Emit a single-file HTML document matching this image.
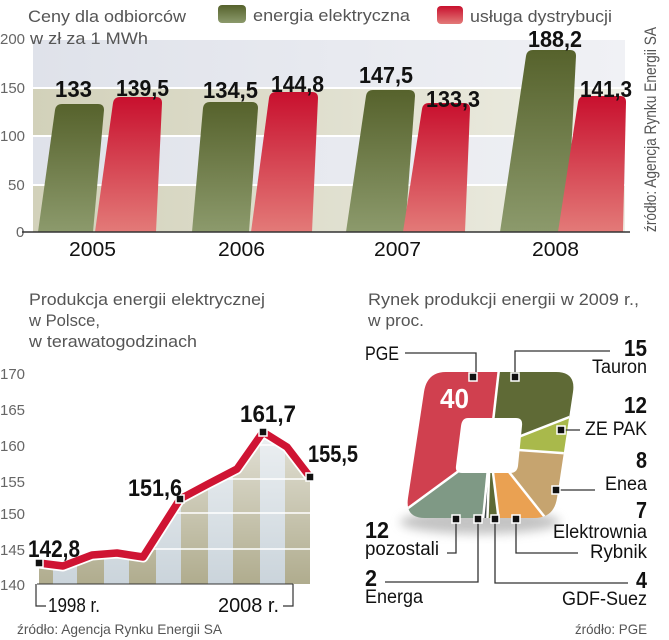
<!DOCTYPE html>
<html><head><meta charset="utf-8"><style>
html,body{margin:0;padding:0;background:#fff;}
svg{display:block;}
text{font-family:"Liberation Sans",sans-serif;}
.t{fill:#555;font-size:17px;}
.b{font-weight:bold;fill:#111;}
.ax{fill:#666;font-size:15px;}
</style></head><body>
<svg width="669" height="640" viewBox="0 0 669 640" xmlns="http://www.w3.org/2000/svg">
<defs>
<linearGradient id="gg" x1="0" y1="0" x2="0" y2="1"><stop offset="0" stop-color="#56622c"/><stop offset="1" stop-color="#8c9a6c"/></linearGradient>
<linearGradient id="rg" x1="0" y1="0" x2="0" y2="1"><stop offset="0" stop-color="#c8102e"/><stop offset="1" stop-color="#e37a78"/></linearGradient>
<linearGradient id="band1" x1="0" y1="0" x2="1" y2="0"><stop offset="0" stop-color="#dfe2ea"/><stop offset="1" stop-color="#f0f1f5"/></linearGradient>
<linearGradient id="band2" x1="0" y1="0" x2="1" y2="0"><stop offset="0" stop-color="#d2d1ba"/><stop offset="1" stop-color="#eeeee4"/></linearGradient>
<linearGradient id="fade" x1="0" y1="0" x2="0" y2="1"><stop offset="0" stop-color="#fff" stop-opacity="0.7"/><stop offset="1" stop-color="#fff" stop-opacity="0"/></linearGradient>
<clipPath id="area"><polygon points="39,563 63,566 92,555 117,553 143,557 180,499 208,484 237,469 263,432 287,447 310,477 310,584 39,584"/></clipPath>
<clipPath id="sq"><path d="M446,372 L556,372 Q576,372 573,392 L557,498 Q554,518 534,518 L425,518 Q405,518 408,498 L424,392 Q427,372 446,372 Z"/></clipPath>
<filter id="sh" x="-20%" y="-20%" width="140%" height="160%"><feGaussianBlur stdDeviation="5"/></filter>
</defs>

<!-- TOP CHART -->
<text class="t" x="28" y="22" font-size="19" textLength="158" lengthAdjust="spacingAndGlyphs">Ceny dla odbiorców</text>
<rect x="218" y="5" width="28" height="18" rx="4" fill="url(#gg)"/>
<text class="t" x="253" y="21" font-size="19" textLength="157" lengthAdjust="spacingAndGlyphs">energia elektryczna</text>
<rect x="437" y="6" width="26" height="18" rx="4" fill="url(#rg)"/>
<text class="t" x="470" y="22" font-size="19" textLength="142" lengthAdjust="spacingAndGlyphs">usługa dystrybucji</text>
<text class="t" font-size="14" transform="translate(656,232) rotate(-90)" textLength="205" lengthAdjust="spacingAndGlyphs">źródło: Agencja Rynku Energii SA</text>

<rect x="33" y="40" width="592" height="48" fill="url(#band1)"/>
<rect x="33" y="88" width="592" height="48" fill="url(#band2)"/>
<rect x="33" y="136" width="592" height="49" fill="url(#band1)"/>
<rect x="33" y="185" width="592" height="47" fill="url(#band2)"/>
<g stroke="#fff" stroke-width="2"><line x1="33" y1="88" x2="625" y2="88"/><line x1="33" y1="136" x2="625" y2="136"/><line x1="33" y1="185" x2="625" y2="185"/></g>
<text class="t" x="30" y="44" font-size="19" textLength="118" lengthAdjust="spacingAndGlyphs">w zł  za 1 MWh</text>
<g class="ax" font-size="15"><text x="0" y="44">200</text><text x="0" y="93">150</text><text x="0" y="141">100</text><text x="8" y="190">50</text><text x="16" y="237">0</text></g>

<g>
<path d="M38,232 L55,110 Q56,104 62,104 L98,104 Q104,104 104,110 L93,232 Z" fill="url(#gg)"/>
<path d="M95,232 L113,103 Q114,97 120,97 L156,97 Q162,97 162,103 L156,232 Z" fill="url(#rg)"/>
<path d="M192,232 L203,108 Q204,102 210,102 L252,102 Q258,102 258,108 L249,232 Z" fill="url(#gg)"/>
<path d="M251,232 L269,98 Q270,92 276,92 L312,92 Q318,92 318,98 L312,232 Z" fill="url(#rg)"/>
<path d="M346,232 L366,96 Q367,90 373,90 L409,90 Q415,90 415,96 L405,232 Z" fill="url(#gg)"/>
<path d="M403,232 L422,109 Q423,103 429,103 L464,103 Q470,103 470,109 L465,232 Z" fill="url(#rg)"/>
<path d="M500,232 L526,56 Q527,50 533,50 L570,50 Q576,50 576,56 L567,232 Z" fill="url(#gg)"/>
<path d="M558,232 L578,102 Q579,96 585,96 L620,96 Q626,96 626,102 L623,232 Z" fill="url(#rg)"/>
</g>
<line x1="22" y1="232" x2="630" y2="232" stroke="#333" stroke-width="1.5"/>
<g class="b" font-size="23">
<text x="55" y="97" textLength="37" lengthAdjust="spacingAndGlyphs">133</text>
<text x="116" y="96" textLength="53" lengthAdjust="spacingAndGlyphs">139,5</text>
<text x="203" y="98" textLength="55" lengthAdjust="spacingAndGlyphs">134,5</text>
<text x="271" y="92" textLength="53" lengthAdjust="spacingAndGlyphs">144,8</text>
<text x="359" y="83" textLength="54" lengthAdjust="spacingAndGlyphs">147,5</text>
<text x="426" y="107" textLength="54" lengthAdjust="spacingAndGlyphs">133,3</text>
<text x="528" y="47" textLength="54" lengthAdjust="spacingAndGlyphs">188,2</text>
<text x="580" y="97" textLength="52" lengthAdjust="spacingAndGlyphs">141,3</text>
</g>
<g font-size="20" fill="#111">
<text x="69" y="256" textLength="47" lengthAdjust="spacingAndGlyphs">2005</text>
<text x="218" y="256" textLength="47" lengthAdjust="spacingAndGlyphs">2006</text>
<text x="374" y="256" textLength="47" lengthAdjust="spacingAndGlyphs">2007</text>
<text x="532" y="256" textLength="47" lengthAdjust="spacingAndGlyphs">2008</text>
</g>

<!-- LINE CHART -->
<text class="t" x="29" y="305" textLength="236" lengthAdjust="spacingAndGlyphs">Produkcja energii elektrycznej</text>
<text class="t" x="29" y="326" textLength="71" lengthAdjust="spacingAndGlyphs">w Polsce,</text>
<text class="t" x="29" y="347" textLength="168" lengthAdjust="spacingAndGlyphs">w terawatogodzinach</text>
<g class="ax" font-size="14"><text x="0" y="379">170</text><text x="0" y="415">165</text><text x="0" y="451">160</text><text x="0" y="487">155</text><text x="0" y="519">150</text><text x="0" y="555">145</text><text x="0" y="590">140</text></g>
<g clip-path="url(#area)">
<rect x="30" y="420" width="290" height="170" fill="#c9d3da"/>
<g fill="#aeaa8b">
<rect x="39" y="420" width="14" height="170"/><rect x="77" y="420" width="27" height="170"/><rect x="129" y="420" width="27" height="170"/><rect x="181" y="420" width="27" height="170"/><rect x="233" y="420" width="27" height="170"/><rect x="285" y="420" width="27" height="170"/>
</g>
<rect x="30" y="420" width="290" height="170" fill="url(#fade)"/>
<g stroke="#fff" stroke-width="1.5"><line x1="30" y1="549" x2="320" y2="549"/><line x1="30" y1="513" x2="320" y2="513"/><line x1="30" y1="479" x2="320" y2="479"/><line x1="30" y1="445" x2="320" y2="445"/></g>
</g>
<polyline points="39,563 63,566 92,555 117,553 143,557 180,499 208,484 237,469 263,432 287,447 310,477" fill="none" stroke="#fff" stroke-width="11" stroke-linejoin="round"/>
<polyline points="39,563 63,566 92,555 117,553 143,557 180,499 208,484 237,469 263,432 287,447 310,477" fill="none" stroke="#cf1433" stroke-width="7.5" stroke-linejoin="round"/>
<g fill="#111" stroke="#fff" stroke-width="1.5">
<rect x="35" y="559" width="8" height="8"/><rect x="176" y="495" width="8" height="8"/><rect x="259" y="428" width="8" height="8"/><rect x="306" y="473" width="8" height="8"/>
</g>
<line x1="37" y1="584" x2="293" y2="584" stroke="#333" stroke-width="1"/>
<g class="b" font-size="24">
<text x="28" y="557" textLength="52" lengthAdjust="spacingAndGlyphs">142,8</text>
<text x="128" y="496" textLength="54" lengthAdjust="spacingAndGlyphs">151,6</text>
<text x="240" y="422" textLength="56" lengthAdjust="spacingAndGlyphs">161,7</text>
<text x="308" y="462" textLength="50" lengthAdjust="spacingAndGlyphs">155,5</text>
</g>
<path d="M36,584 V606 H46" fill="none" stroke="#333" stroke-width="1.2"/>
<path d="M293,584 V606 H283" fill="none" stroke="#333" stroke-width="1.2"/>
<text x="48" y="612" font-size="20" fill="#111" textLength="52" lengthAdjust="spacingAndGlyphs">1998 r.</text>
<text x="218" y="612" font-size="20" fill="#111" textLength="61" lengthAdjust="spacingAndGlyphs">2008 r.</text>
<text x="17" y="634" font-size="14" fill="#555" textLength="205" lengthAdjust="spacingAndGlyphs">źródło: Agencja Rynku Energii SA</text>

<!-- SQUARE PIE -->
<text class="t" x="368" y="305" textLength="271" lengthAdjust="spacingAndGlyphs">Rynek produkcji energii w 2009 r.,</text>
<text class="t" x="368" y="326" textLength="56" lengthAdjust="spacingAndGlyphs">w proc.</text>
<ellipse cx="480" cy="522" rx="80" ry="12" fill="#888" opacity="0.5" filter="url(#sh)"/>
<g clip-path="url(#sq)">
<polygon points="490,448 500,360 380,360 380,530 400,514" fill="#d0404f"/>
<polygon points="490,448 500,360 590,360 590,409" fill="#5f6a36"/>
<polygon points="490,448 590,409 590,455" fill="#a9b94b"/>
<polygon points="490,448 590,455 590,530 555,530" fill="#c6a46f"/>
<polygon points="490,448 555,530 500,530" fill="#eaa152"/>
<polygon points="490,448 500,530 487,530" fill="#5e6a35"/>
<polygon points="490,448 487,530 482,530" fill="#3c4646"/>
<polygon points="490,448 482,530 380,530 400,514" fill="#7f9985"/>
<g stroke="#fff" stroke-width="2.5">
<line x1="490" y1="448" x2="500" y2="360"/><line x1="490" y1="448" x2="590" y2="409"/><line x1="490" y1="448" x2="590" y2="455"/><line x1="490" y1="448" x2="555" y2="530"/><line x1="490" y1="448" x2="500" y2="530"/><line x1="490" y1="448" x2="487" y2="530"/><line x1="490" y1="448" x2="482" y2="530"/><line x1="490" y1="448" x2="400" y2="514"/>
</g>
<path d="M468,418 L516,418 Q523,418 522,426 L518,466 Q517,473 510,473 L462,473 Q455,473 456,466 L461,426 Q462,418 468,418 Z" fill="#fff"/>
</g>
<text x="440" y="408" font-size="28" font-weight="bold" fill="#fff" textLength="29" lengthAdjust="spacingAndGlyphs">40</text>
<g fill="none" stroke="#333" stroke-width="1.3">
<path d="M405,353 H476 V376"/><path d="M515,376 V351 H610"/><path d="M561,430 H580"/><path d="M556,490 H595"/><path d="M516,519 V553 H578"/><path d="M495,519 V583 H628"/><path d="M456,519 V553 H447"/><path d="M478,519 V582 H385"/>
</g>
<g fill="#111" stroke="#fff" stroke-width="1.5">
<rect x="469" y="373" width="8" height="8"/><rect x="511" y="373" width="8" height="8"/><rect x="557" y="426" width="8" height="8"/><rect x="552" y="486" width="8" height="8"/><rect x="452" y="515" width="8" height="8"/><rect x="474" y="515" width="8" height="8"/><rect x="491" y="515" width="8" height="8"/><rect x="512" y="515" width="8" height="8"/>
</g>
<g fill="#111" font-size="19">
<text x="365" y="360" textLength="34" lengthAdjust="spacingAndGlyphs">PGE</text>
<text x="592" y="373" textLength="55" lengthAdjust="spacingAndGlyphs">Tauron</text>
<text x="585" y="435" textLength="62" lengthAdjust="spacingAndGlyphs">ZE PAK</text>
<text x="605" y="490" textLength="42" lengthAdjust="spacingAndGlyphs">Enea</text>
<text x="553" y="538" textLength="94" lengthAdjust="spacingAndGlyphs">Elektrownia</text>
<text x="590" y="558" textLength="57" lengthAdjust="spacingAndGlyphs">Rybnik</text>
<text x="562" y="605" textLength="85" lengthAdjust="spacingAndGlyphs">GDF-Suez</text>
<text x="365" y="555" textLength="74" lengthAdjust="spacingAndGlyphs">pozostali</text>
<text x="365" y="603" textLength="58" lengthAdjust="spacingAndGlyphs">Energa</text>
</g>
<g class="b" font-size="23">
<text x="624" y="356" textLength="23" lengthAdjust="spacingAndGlyphs">15</text>
<text x="624" y="413" textLength="23" lengthAdjust="spacingAndGlyphs">12</text>
<text x="636" y="468" textLength="11" lengthAdjust="spacingAndGlyphs">8</text>
<text x="636" y="518" textLength="11" lengthAdjust="spacingAndGlyphs">7</text>
<text x="636" y="588" textLength="11" lengthAdjust="spacingAndGlyphs">4</text>
<text x="365" y="538" textLength="24" lengthAdjust="spacingAndGlyphs">12</text>
<text x="365" y="586" textLength="12" lengthAdjust="spacingAndGlyphs">2</text>
</g>
<text x="575" y="634" font-size="14" fill="#555" textLength="72" lengthAdjust="spacingAndGlyphs">źródło: PGE</text>
</svg>
</body></html>
